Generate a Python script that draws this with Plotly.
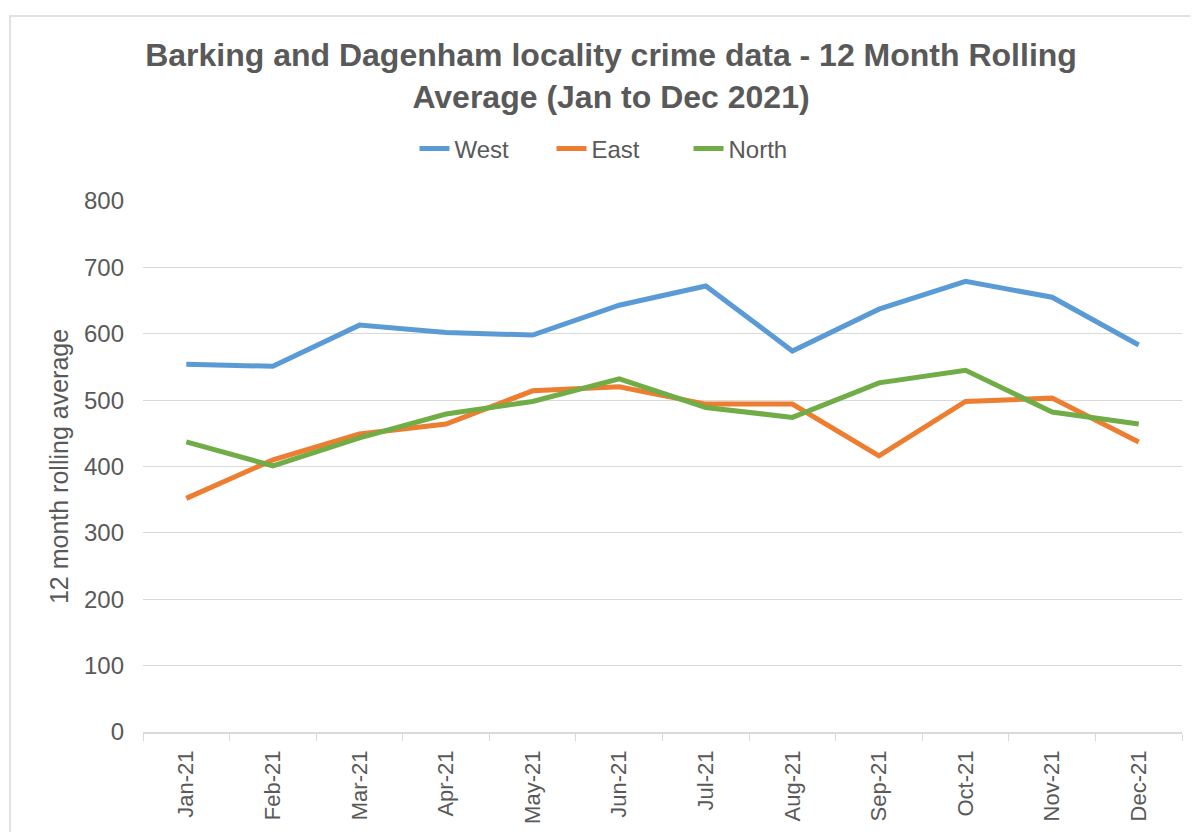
import plotly.graph_objects as go

months = ['Jan-21', 'Feb-21', 'Mar-21', 'Apr-21', 'May-21', 'Jun-21',
          'Jul-21', 'Aug-21', 'Sep-21', 'Oct-21', 'Nov-21', 'Dec-21']
west = [554, 551, 613, 602, 598, 643, 672, 574, 637, 679, 655, 583]
east = [352, 410, 449, 464, 514, 520, 494, 494, 416, 498, 503, 437]
north = [437, 401, 443, 479, 498, 532, 489, 474, 526, 545, 482, 464]

grey = '#595959'
font = 'Liberation Sans, Arial, sans-serif'

fig = go.Figure()
fig.add_trace(go.Scatter(x=months, y=west, name='West', mode='lines',
                         line=dict(color='#5B9BD5', width=5)))
fig.add_trace(go.Scatter(x=months, y=east, name='East', mode='lines',
                         line=dict(color='#ED7D31', width=5)))
fig.add_trace(go.Scatter(x=months, y=north, name='North', mode='lines',
                         line=dict(color='#70AD47', width=5)))

# page body has an 8px margin, so target pixel positions are shifted by it
off = 8
L, R, T, B = 143 - off, 1182 - off, 201 - off, 732 - off
W, H = 1198, 832
pw, ph = R - L, B - T

fig.update_layout(
    width=W, height=H,
    margin=dict(l=L, r=W - R, t=T, b=H - B),
    paper_bgcolor='white', plot_bgcolor='white',
    font=dict(family=font, color=grey),
    title=dict(text='<b>Barking and Dagenham locality crime data - 12 Month Rolling<br>Average (Jan to Dec 2021)</b>',
               x=(611 - off - L) / pw, xref='paper', xanchor='center',
               y=1 - (66 - off) / H, yanchor='middle',
               font=dict(size=32, color=grey, family=font)),
    legend=dict(orientation='h', x=(620 - off - L) / pw, xanchor='center',
                y=(B - (149 - off)) / ph, yanchor='middle',
                font=dict(size=24, color=grey), tracegroupgap=0,
                entrywidth=92, entrywidthmode='pixels'),
    showlegend=True,
)
fig.update_yaxes(range=[0, 800], dtick=100, showgrid=True, gridcolor='#D9D9D9', gridwidth=1.3,
                 zeroline=False, showline=False, ticks='', automargin=False,
                 tickfont=dict(size=24, color=grey), ticklabelstandoff=18,
                 title=dict(text='12 month rolling average', font=dict(size=25, color=grey), standoff=8))
fig.update_xaxes(type='category', range=[-0.5, 11.5], showgrid=False, automargin=False,
                 showline=True, linecolor='#D9D9D9', linewidth=1.5,
                 ticks='outside', tickson='boundaries', ticklen=7, tickcolor='#D9D9D9',
                 tickangle=-90, tickfont=dict(size=22, color=grey), ticklabelstandoff=8)

# chart border
fig.add_shape(type='rect', xref='paper', yref='paper',
              x0=(10 - off - L) / pw, x1=(1196 - off - L) / pw,
              y0=(B - 840) / ph, y1=(B - (16 - off)) / ph,
              line=dict(color='#D9D9D9', width=1.5), layer='below')

fig.write_html('out.html')
